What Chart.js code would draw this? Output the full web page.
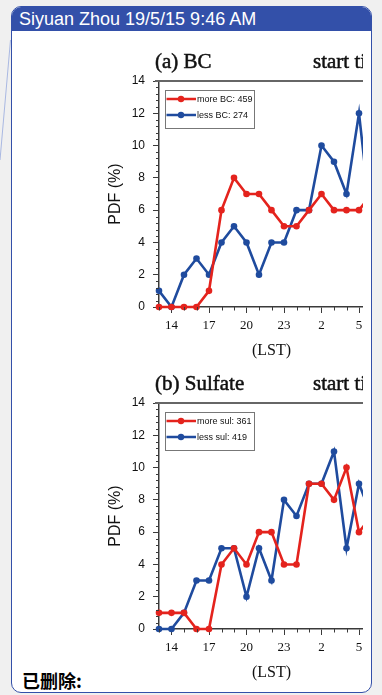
<!DOCTYPE html>
<html><head><meta charset="utf-8">
<script src="https://cdn.jsdelivr.net/npm/chart.js@4"></script>
<style>
html,body{margin:0;padding:0;width:382px;height:695px;background:#f0f0f0;overflow:hidden;font-family:"Liberation Sans",Arial,sans-serif;}
#conn{position:absolute;left:0;top:0;}
#box{position:absolute;left:11px;top:6px;width:361px;height:687px;box-sizing:border-box;border:1.5px solid #3350a9;border-radius:10px;background:#fff;overflow:hidden;}
#hdr{position:absolute;left:0;top:0;right:0;height:24px;background:#3350a9;color:#fff;font-size:18px;line-height:24px;padding-left:7px;white-space:nowrap;}
#clip{position:absolute;left:0;top:0;width:363px;height:695px;overflow:hidden;}
.cw{position:absolute;}
#del{position:absolute;left:22px;top:668px;font-family:"Noto Sans CJK SC",sans-serif;font-weight:bold;font-size:18px;line-height:24px;color:#000;}
</style></head>
<body>
<svg id="conn" width="20" height="200"><line x1="10.5" y1="40" x2="0" y2="160" stroke="#a9b8e2" stroke-width="1"/></svg>
<div id="box"><div id="hdr">Siyuan Zhou 19/5/15 9:46 AM</div></div>
<div id="clip">
  <div class="cw" style="left:100px;top:45px;width:300px;height:330px;"><canvas id="ca" width="300" height="330"></canvas></div>
  <div class="cw" style="left:100px;top:367px;width:300px;height:330px;"><canvas id="cb" width="300" height="330"></canvas></div>
</div>
<div id="del">已删除:</div>
<script>
// ---- data ----
const hours = ["13","14","15","16","17","18","19","20","21","22","23","0","1","2","3","4","5","6","7"];
const majorIdx = [1,4,7,10,13,16];
const yTicks = [0,2,4,6,8,10,12,14];
const moreBC  = [0,0,0,0,1,6,8,7,7,6,5,5,6,7,6,6,6,7];
const lessBC  = [1,0,2,3,2,4,5,4,2,4,4,6,6,10,9,7,12,5];
const moreSul = [1,1,1,0,0,4,5,4,6,6,4,4,9,9,8,10,6,7];
const lessSul = [0,0,1,3,3,5,5,2,5,3,8,7,9,9,11,5,9,7];

const RED = '#e4231d', BLUE = '#1f4b9e', AX = '#3a3a3a';

const decor = {
  id: 'decor',
  afterDraw(chart, args, o) {
    const ctx = chart.ctx, a = chart.chartArea, xs = chart.scales.x, ys = chart.scales.y;
    ctx.save();
    // top frame
    ctx.strokeStyle = '#666'; ctx.lineWidth = 2;
    ctx.beginPath(); ctx.moveTo(a.left - 4, a.top); ctx.lineTo(a.right, a.top); ctx.stroke();
    // minor ticks
    ctx.strokeStyle = AX; ctx.lineWidth = 1;
    ctx.beginPath();
    for (let k = 0; k <= 35; k++) {
      if (k % 5 === 0) continue;
      const py = Math.round(ys.getPixelForValue(k * 0.4)) + 0.5;
      ctx.moveTo(a.left - 3, py); ctx.lineTo(a.left, py);
    }
    for (let i = 0; i < hours.length; i++) {
      if (majorIdx.includes(i)) continue;
      const px = Math.round(xs.getPixelForValue(i)) + 0.5;
      ctx.moveTo(px, a.bottom); ctx.lineTo(px, a.bottom + 3.5);
    }
    ctx.stroke();
    // titles
    ctx.fillStyle = '#111'; ctx.strokeStyle = '#111'; ctx.lineWidth = 0.5;
    ctx.font = '21px "Liberation Serif"';
    ctx.textBaseline = 'alphabetic';
    ctx.fillText(o.left, 55, 23); ctx.strokeText(o.left, 55, 23);
    ctx.fillText(o.right, 213, 23); ctx.strokeText(o.right, 213, 23);
    // legend
    const bx = a.left + 6, by = a.top + 9, bw = 89, bh = 38;
    ctx.fillStyle = '#fff'; ctx.fillRect(bx, by, bw, bh);
    ctx.strokeStyle = '#777'; ctx.lineWidth = 1;
    ctx.strokeRect(Math.round(bx) + 0.5, Math.round(by) + 0.5, bw, bh);
    ctx.font = '9px "Liberation Sans"';
    ctx.textBaseline = 'middle';
    chart.data.datasets.forEach((d, j) => {
      const ry = by + 9 + j * 16;
      ctx.strokeStyle = d.borderColor; ctx.lineWidth = 2.5;
      ctx.beginPath(); ctx.moveTo(bx + 1.5, ry); ctx.lineTo(bx + 31, ry); ctx.stroke();
      ctx.fillStyle = d.borderColor;
      ctx.beginPath(); ctx.arc(bx + 16, ry, 3.2, 0, Math.PI * 2); ctx.fill();
      ctx.fillStyle = '#111';
      ctx.fillText(d.label, bx + 32, ry + 0.5);
    });
    ctx.restore();
  }
};

function makeChart(id, tl, tr, moreLabel, lessLabel, more, less) {
  const ds = (label, vals, col) => ({
    label, data: vals.map((v, i) => ({x: i, y: v})), borderColor: col, backgroundColor: col,
    borderWidth: 2.6, pointRadius: 3.3, pointBorderWidth: 0, pointBackgroundColor: col,
    tension: 0, clip: false
  });
  return new Chart(document.getElementById(id), {
    type: 'line',
    data: { datasets: [ds(moreLabel, more, RED), ds(lessLabel, less, BLUE)] },
    options: {
      responsive: false, animation: false, devicePixelRatio: 1,
      layout: { padding: { top: 36, right: 16, left: 0, bottom: 0 } },
      plugins: { legend: { display: false }, tooltip: { enabled: false }, decor: { left: tl, right: tr } },
      scales: {
        x: {
          type: 'linear', min: 0, max: 18,
          afterBuildTicks: s => { s.ticks = majorIdx.map(v => ({value: v})); },
          afterFit: s => { s.height = 68; },
          ticks: { callback: v => hours[v], font: { family: 'Liberation Serif', size: 13 }, color: '#111', padding: 5, maxRotation: 0, autoSkip: false },
          grid: { drawOnChartArea: false, drawTicks: true, tickLength: 6, tickColor: AX, tickWidth: 1 },
          border: { display: true, color: AX, width: 1.5 },
          title: { display: true, text: '(LST)', font: { family: 'Liberation Serif', size: 16 }, color: '#111', padding: { top: 0, bottom: 15 } }
        },
        y: {
          min: 0, max: 14,
          afterBuildTicks: s => { s.ticks = yTicks.map(v => ({value: v})); },
          afterFit: s => { s.width = 59; },
          ticks: { font: { family: 'Liberation Sans', size: 12 }, color: '#111', padding: 8 },
          grid: { drawOnChartArea: false, drawTicks: true, tickLength: 6, tickColor: AX, tickWidth: 1 },
          border: { display: true, color: AX, width: 1.5 },
          title: { display: true, text: 'PDF (%)', font: { family: 'Liberation Sans', size: 16 }, color: '#111', padding: { top: 6, bottom: 0 } }
        }
      }
    },
    plugins: [decor]
  });
}

makeChart('ca', '(a) BC', 'start time', 'more BC: 459', 'less BC: 274', moreBC, lessBC);
makeChart('cb', '(b) Sulfate', 'start time', 'more sul: 361', 'less sul: 419', moreSul, lessSul);
</script>
</body></html>
